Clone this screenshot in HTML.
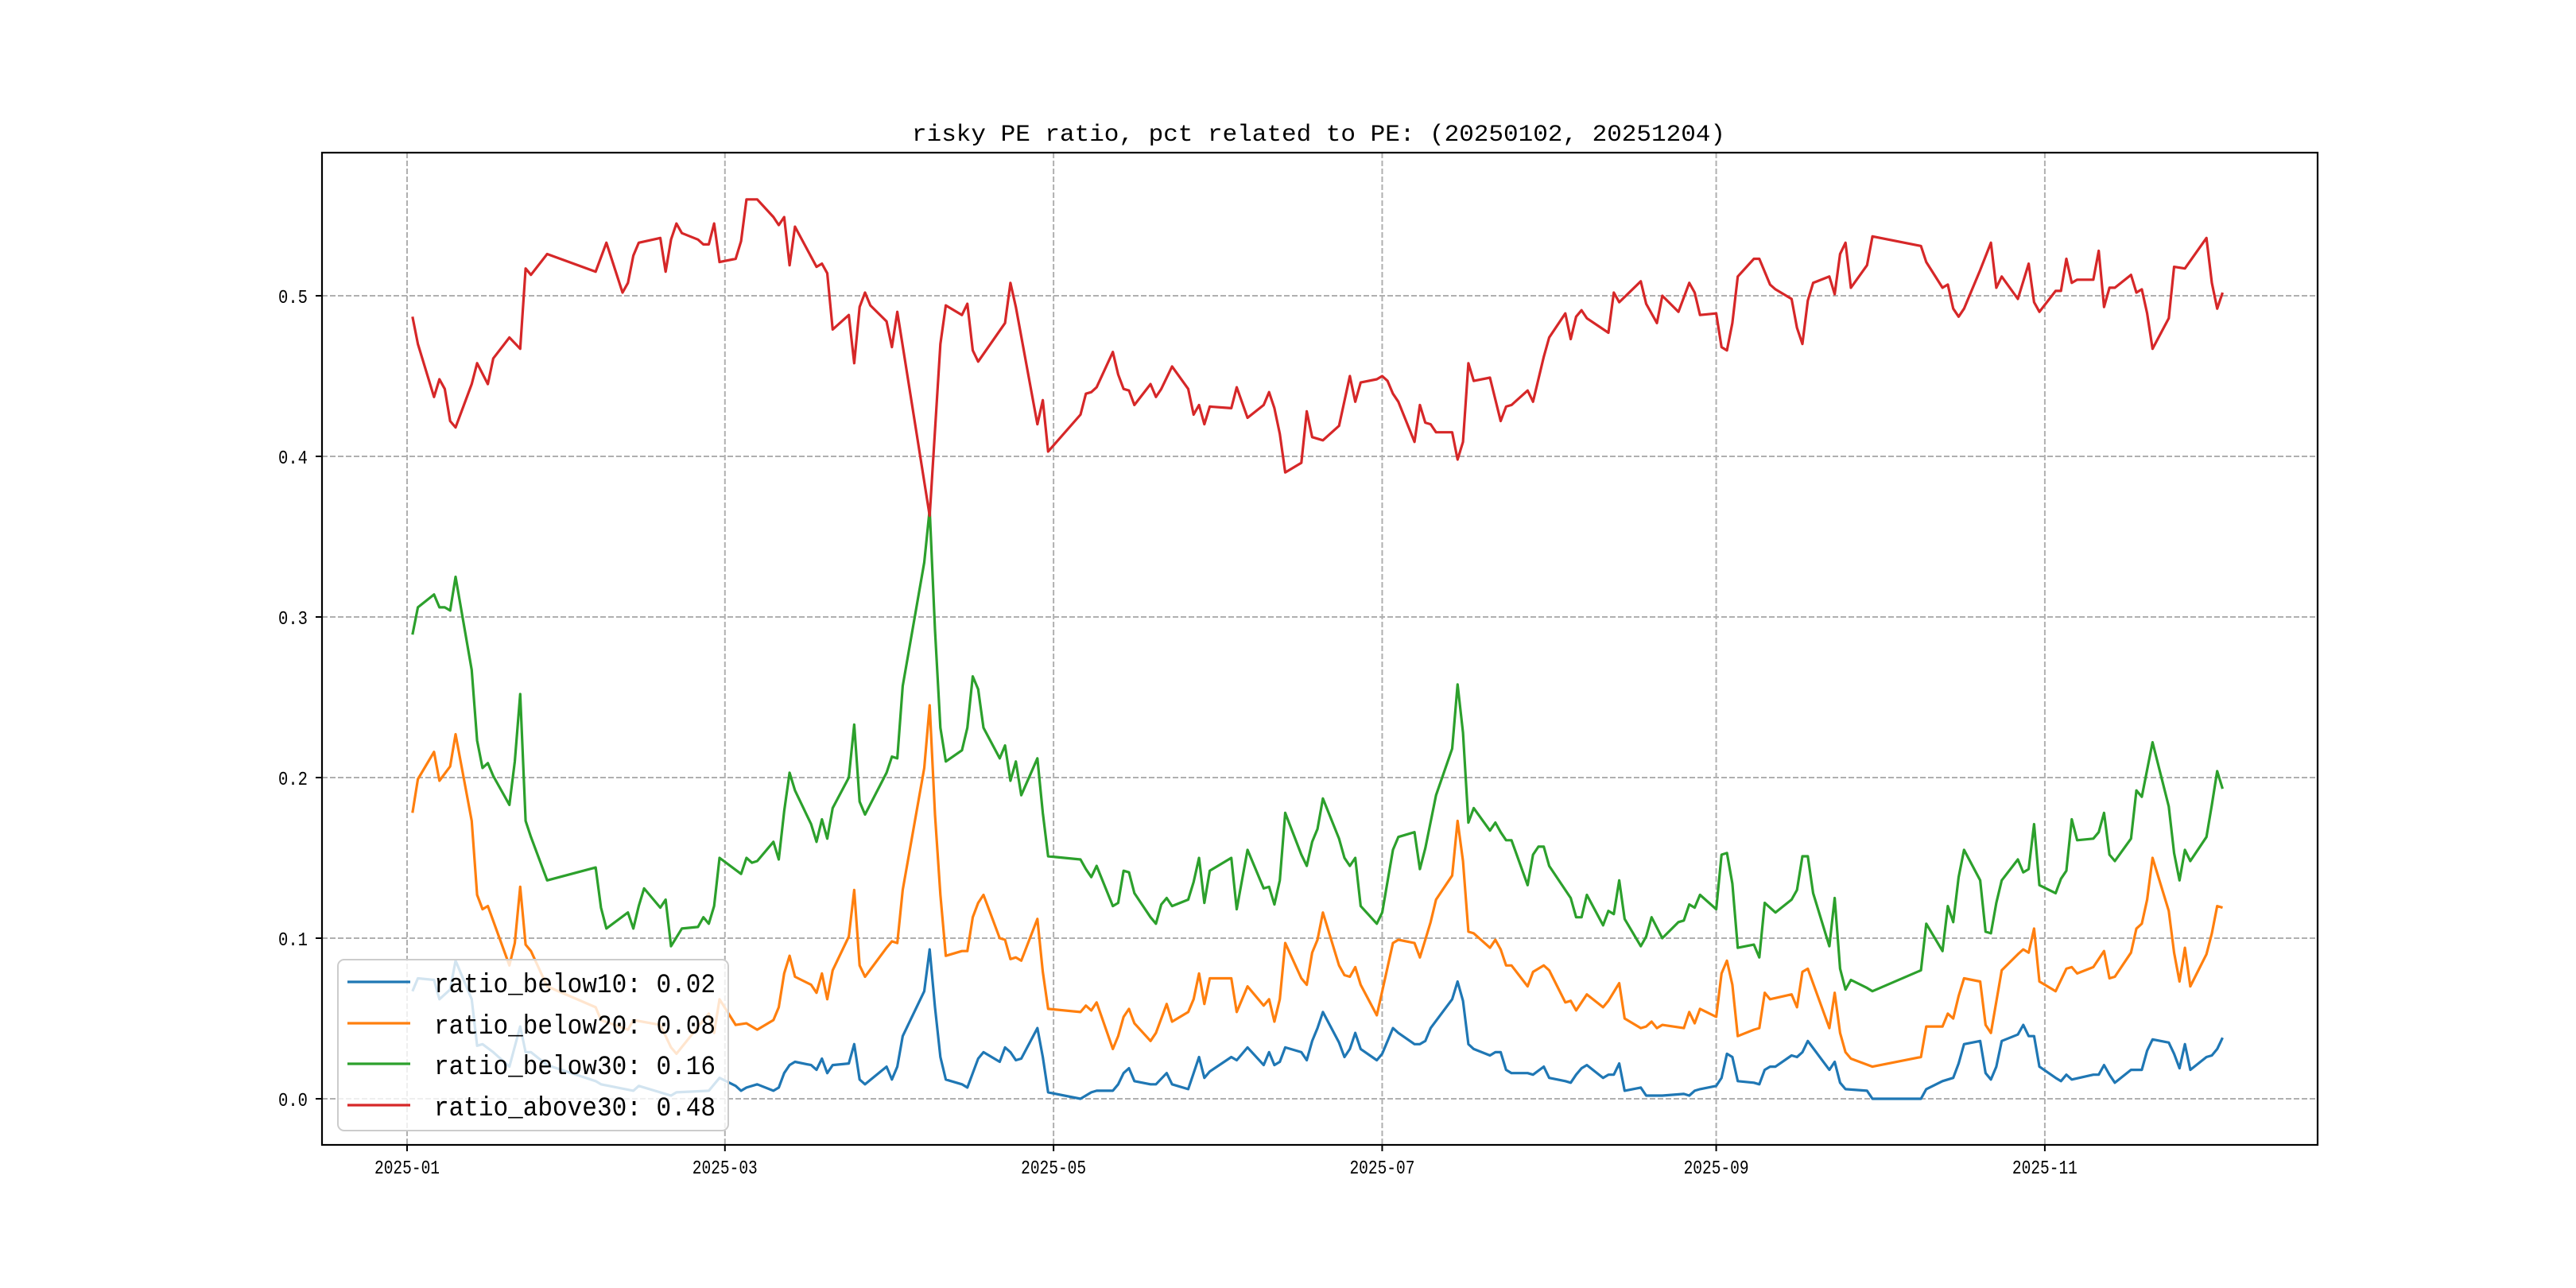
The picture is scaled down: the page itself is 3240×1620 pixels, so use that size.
<!DOCTYPE html>
<html><head><meta charset="utf-8"><style>
html,body{margin:0;padding:0;background:#fff;}
svg{display:block;}
text{font-family:"Liberation Mono","Noto Sans CJK SC",monospace;}
</style></head><body>
<svg id="chart" width="3240" height="1620" viewBox="0 0 3240 1620" xmlns="http://www.w3.org/2000/svg">
<rect width="3240" height="1620" fill="#fff"/>
<g id="grid"></g>
<g id="series"></g>
<rect x="405" y="192" width="2510" height="1248" fill="none" stroke="#000" stroke-width="2.2"/>
<g id="axes"></g>
<text x="1147" y="177" font-size="30" textLength="1023" lengthAdjust="spacingAndGlyphs">risky PE ratio, pct related to PE: (20250102, 20251204)</text>
<g id="legend"></g>
</svg>
<script>
// days since 2025-01-01
const yTicks = [0, 0.1, 0.2, 0.3, 0.4, 0.5];
const yTickLabels = ["0.0","0.1","0.2","0.3","0.4","0.5"];
const xTickDays = [0, 59, 120, 181, 243, 304];
const xTickLabels = ["2025-01","2025-03","2025-05","2025-07","2025-09","2025-11"];
const seriesNames = ["ratio_below10: 0.02","ratio_below20: 0.08","ratio_below30: 0.16","ratio_above30: 0.48"];
const seriesColors = ["#1f77b4","#ff7f0e","#2ca02c","#d62728"];

const redDays = [1,2,5,6,7,8,9,12,13,15,16,19,21,22,23,26,35,37,40,41,42,43,47,48,49,50,51,54,55,56,57,58,61,62,63,65,68,69,70,71,72,76,77,78,79,82,83,84,85,86,89,90,91,97,99,100,103,104,105,106,111,112,113,117,118,119,125,126,127,128,131,132,133,134,135,138,139,140,142,145,146,147,148,149,153,154,156,159,160,161,162,163,166,167,168,170,173,175,176,177,180,181,182,183,184,187,188,189,190,191,194,195,196,197,198,201,203,204,205,208,209,211,212,215,216,217,218,219,223,224,225,229,230,232,233,236,238,239,240,243,244,245,246,247,250,251,253,254,257,258,259,260,261,264,265,266,267,268,271,272,281,282,285,286,287,288,289,292,294,295,296,299,301,302,303,306,307,308,309,310,313,314,315,316,317,320,321,322,323,324,327,328,330,334,335,336,337];
const redVals = [.487,.470,.437,.448,.442,.422,.418,.445,.458,.445,.461,.474,.467,.517,.513,.526,.515,.533,.502,.508,.525,.533,.536,.515,.535,.545,.539,.535,.532,.532,.545,.521,.523,.534,.560,.560,.549,.544,.549,.519,.543,.518,.520,.514,.479,.488,.458,.493,.502,.494,.484,.468,.490,.363,.470,.494,.488,.495,.466,.459,.483,.508,.493,.420,.435,.403,.426,.439,.440,.443,.465,.451,.442,.441,.432,.445,.437,.442,.456,.442,.426,.432,.420,.431,.430,.443,.424,.432,.440,.430,.414,.390,.396,.428,.412,.410,.419,.450,.434,.446,.448,.450,.447,.439,.434,.409,.432,.421,.420,.415,.415,.398,.409,.458,.447,.449,.422,.431,.432,.441,.434,.462,.474,.489,.473,.487,.491,.486,.477,.502,.496,.509,.495,.483,.500,.490,.508,.502,.488,.489,.468,.466,.483,.512,.523,.523,.507,.504,.498,.480,.470,.497,.508,.512,.501,.526,.533,.505,.519,.537,.531,.521,.505,.507,.492,.487,.492,.516,.533,.505,.512,.498,.520,.496,.490,.503,.503,.523,.508,.510,.510,.528,.493,.505,.505,.513,.502,.504,.489,.467,.486,.518,.517,.536,.508,.492,.502];

const greenDays = [1,2,5,6,7,8,9,12,13,14,15,16,19,20,21,22,23,26,35,36,37,41,42,43,44,47,48,49,51,54,55,56,57,58,62,63,64,65,68,69,70,71,72,75,76,77,78,79,82,83,84,85,89,90,91,92,96,97,98,99,100,103,104,105,106,107,110,111,112,113,114,117,118,119,125,126,127,128,131,132,133,134,135,138,139,140,141,142,145,146,147,148,149,153,154,156,159,160,161,162,163,166,167,168,169,170,173,174,175,176,177,180,181,183,184,187,188,189,191,194,195,196,197,198,201,202,203,204,205,208,209,210,211,212,216,217,218,219,222,223,224,225,226,229,230,231,233,236,237,238,239,240,243,244,245,246,247,250,251,252,254,257,258,259,260,261,264,265,266,267,268,271,272,281,282,285,286,287,288,289,292,293,294,295,296,299,300,301,302,303,306,307,308,309,310,313,314,315,316,317,320,321,322,324,327,328,329,330,331,334,335,336,337];
const greenVals = [.289,.306,.314,.306,.306,.304,.325,.267,.223,.206,.209,.201,.183,.210,.252,.173,.163,.136,.144,.119,.106,.116,.106,.120,.131,.119,.124,.095,.106,.107,.113,.109,.120,.150,.140,.150,.147,.148,.160,.149,.179,.203,.192,.171,.160,.174,.162,.181,.200,.233,.185,.177,.203,.213,.212,.257,.334,.367,.292,.231,.210,.217,.231,.263,.255,.231,.212,.220,.198,.210,.189,.212,.178,.151,.149,.143,.138,.145,.120,.122,.142,.141,.128,.113,.109,.121,.125,.120,.124,.135,.150,.122,.142,.150,.118,.155,.131,.132,.121,.136,.178,.152,.145,.160,.168,.187,.162,.150,.145,.150,.120,.109,.116,.155,.163,.166,.143,.156,.189,.218,.258,.228,.172,.181,.167,.172,.166,.161,.161,.133,.152,.157,.157,.145,.125,.113,.113,.127,.108,.117,.115,.136,.112,.095,.101,.113,.100,.110,.111,.121,.119,.127,.118,.152,.153,.134,.094,.096,.088,.122,.116,.124,.130,.151,.151,.128,.095,.125,.081,.068,.074,.069,.067,.080,.109,.092,.120,.110,.138,.155,.136,.104,.103,.122,.136,.149,.141,.143,.171,.133,.128,.137,.142,.174,.161,.162,.166,.178,.152,.148,.162,.192,.188,.222,.182,.153,.136,.155,.148,.163,.183,.204,.193];

const orangeDays = [1,2,5,6,8,9,12,13,14,15,19,20,21,22,23,26,35,36,41,42,47,49,50,56,57,58,61,63,65,68,69,70,71,72,75,76,77,78,79,82,83,84,85,89,90,91,92,96,97,98,99,100,103,104,105,106,107,110,111,112,113,114,117,118,119,125,126,127,128,131,132,133,134,135,138,139,141,142,145,146,147,148,149,153,154,156,159,160,161,162,163,166,167,168,169,170,173,174,175,176,177,180,181,183,184,187,188,189,190,191,194,195,196,197,198,201,202,203,204,205,208,209,211,212,215,216,217,219,222,223,225,226,229,230,231,232,233,237,238,239,240,243,244,245,246,247,250,251,252,253,257,258,259,260,264,265,266,267,268,272,281,282,285,286,287,288,289,292,293,294,296,299,300,301,302,303,306,308,309,310,313,315,316,317,320,321,322,323,324,327,328,329,330,331,334,335,336,337];
const orangeVals = [.178,.199,.216,.198,.207,.227,.173,.127,.118,.120,.083,.097,.132,.096,.092,.070,.057,.049,.043,.049,.046,.032,.028,.053,.041,.062,.046,.047,.043,.049,.057,.078,.089,.076,.071,.066,.078,.062,.080,.101,.130,.083,.076,.094,.098,.097,.130,.206,.245,.177,.127,.089,.092,.092,.113,.122,.127,.100,.099,.087,.088,.086,.112,.079,.056,.054,.058,.055,.060,.031,.039,.051,.056,.047,.036,.041,.059,.048,.054,.062,.078,.059,.075,.075,.054,.070,.058,.062,.048,.062,.097,.075,.071,.091,.099,.116,.083,.077,.076,.082,.071,.052,.067,.097,.099,.097,.088,.099,.110,.124,.139,.173,.148,.104,.103,.094,.099,.093,.083,.083,.070,.079,.083,.080,.060,.061,.055,.065,.057,.061,.072,.050,.044,.045,.048,.044,.046,.044,.054,.047,.056,.051,.078,.086,.071,.039,.043,.044,.066,.062,.065,.057,.079,.081,.044,.066,.041,.029,.025,.020,.026,.045,.045,.053,.050,.064,.075,.073,.046,.041,.080,.090,.093,.091,.106,.073,.067,.081,.082,.078,.082,.092,.075,.076,.091,.106,.109,.124,.150,.117,.091,.073,.094,.070,.090,.103,.120,.119];

const blueDays = [1,2,5,6,8,9,12,13,14,16,19,21,22,23,26,35,36,42,43,49,50,56,58,61,62,63,65,68,69,70,71,72,75,76,77,78,79,82,83,84,85,89,90,91,92,96,97,98,99,100,103,104,106,107,110,111,112,113,114,117,118,119,125,127,128,131,132,133,134,135,138,139,141,142,145,146,147,148,149,153,154,156,159,160,161,162,163,166,167,168,169,170,173,174,175,176,177,180,181,183,184,187,188,189,190,194,195,196,197,198,201,202,203,204,205,208,209,211,212,215,216,217,218,219,222,223,224,225,226,229,230,233,237,238,239,240,243,244,245,246,247,250,251,252,253,254,257,258,259,260,264,265,266,267,271,272,281,282,285,287,288,289,292,293,294,295,296,299,300,301,302,303,306,307,308,309,313,314,315,316,317,320,321,322,323,324,327,328,329,330,331,334,335,336,337];
const blueVals = [.067,.075,.074,.062,.068,.086,.062,.033,.034,.029,.020,.045,.029,.029,.021,.011,.009,.005,.008,.002,.004,.005,.013,.008,.005,.007,.009,.005,.007,.016,.021,.023,.021,.018,.025,.016,.021,.022,.034,.012,.009,.020,.012,.020,.039,.067,.093,.057,.026,.012,.009,.007,.025,.029,.023,.032,.029,.024,.025,.044,.026,.004,.000,.004,.005,.005,.009,.016,.019,.011,.009,.009,.016,.009,.006,.016,.026,.013,.017,.026,.024,.032,.021,.029,.021,.023,.032,.029,.024,.036,.044,.054,.035,.026,.031,.041,.031,.024,.028,.044,.041,.034,.034,.036,.044,.062,.073,.061,.034,.031,.027,.029,.029,.018,.016,.016,.015,.020,.013,.011,.010,.015,.019,.021,.013,.015,.015,.022,.005,.007,.002,.002,.003,.002,.005,.006,.008,.013,.028,.026,.011,.010,.009,.018,.020,.020,.027,.026,.029,.036,.018,.023,.010,.006,.005,.000,.000,.006,.011,.013,.022,.034,.036,.016,.012,.020,.036,.040,.046,.039,.039,.020,.013,.011,.015,.012,.015,.015,.021,.015,.010,.018,.018,.018,.030,.037,.035,.028,.019,.034,.018,.026,.027,.031,.038];

const X0 = 512, PX_PER_DAY = 6.776;
const Y0 = 1382, PX_PER_UNIT = 2020;
function xScale(d){ return X0 + d * PX_PER_DAY; }
function yScale(v){ return Y0 - v * PX_PER_UNIT; }
const NS = "http://www.w3.org/2000/svg";
function mk(tag, attrs, parent){ const e = document.createElementNS(NS, tag); for (const k in attrs) e.setAttribute(k, attrs[k]); parent.appendChild(e); return e; }

const grid = document.getElementById('grid');
const axes = document.getElementById('axes');
yTicks.forEach((t, i) => {
  const y = yScale(t);
  const gl = mk('line', {x1:405, x2:2915, y1:y, y2:y, stroke:'#b0b0b0', 'stroke-width':2, 'stroke-dasharray':'7,3'}, grid);
  
  
  const tk = mk('line', {x1:397, x2:405, y1:y, y2:y, stroke:'#000', 'stroke-width':2}, axes);
  
  
  const tx = mk('text', {x:387, y:y+9, 'font-size':24, 'text-anchor':'end', textLength:37, lengthAdjust:'spacingAndGlyphs'}, axes);
  tx.textContent = yTickLabels[i];
  
  
});
xTickDays.forEach((d, i) => {
  const x = xScale(d);
  const gl = mk('line', {x1:x, x2:x, y1:192, y2:1440, stroke:'#b0b0b0', 'stroke-width':2, 'stroke-dasharray':'7,3'}, grid);
  
  
  const tk = mk('line', {x1:x, x2:x, y1:1440, y2:1448, stroke:'#000', 'stroke-width':2}, axes);
  
  
  const tx = mk('text', {x:x, y:1476, 'font-size':24, 'text-anchor':'middle', textLength:82, lengthAdjust:'spacingAndGlyphs'}, axes);
  tx.textContent = xTickLabels[i];
  
  
});

const series = document.getElementById('series');
const allDays = [blueDays, orangeDays, greenDays, redDays];
const allVals = [blueVals, orangeVals, greenVals, redVals];
const lineNames = ['line-ratio-below10','line-ratio-below20','line-ratio-below30','line-ratio-above30'];
allDays.forEach((days, s) => {
  const pts = days.map((d, i) => xScale(d).toFixed(1) + ',' + yScale(allVals[s][i]).toFixed(1)).join(' ');
  const pl = mk('polyline', {points:pts, fill:'none', stroke:seriesColors[s], 'stroke-width':3.2, 'stroke-linejoin':'round'}, series);
  
  
});

const legend = document.getElementById('legend');
const lb = mk('rect', {x:425, y:1207, width:491, height:215, rx:8, fill:'#fff', 'fill-opacity':0.8, stroke:'#cccccc', 'stroke-width':2}, legend);


const rowY = [1235, 1287, 1338, 1390];
seriesNames.forEach((n, i) => {
  const g = mk('g', {}, legend);
  
  
  const ln = mk('line', {x1:437, x2:516, y1:rowY[i], y2:rowY[i], stroke:seriesColors[i], 'stroke-width':3.2}, g);
  
  
  const t = mk('text', {x:546, y:rowY[i]+13, 'font-size':34, textLength:354, lengthAdjust:'spacingAndGlyphs'}, g);
  t.textContent = n;
  
  
});
</script>
</body></html>
